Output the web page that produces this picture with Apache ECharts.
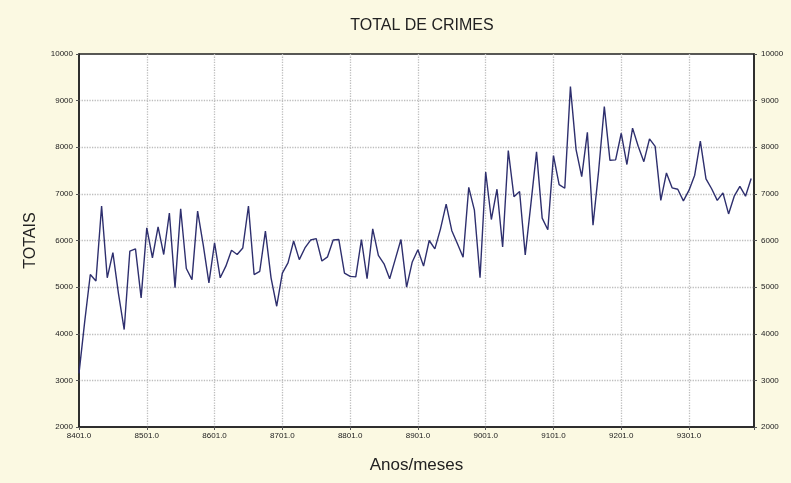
<!DOCTYPE html>
<html>
<head>
<meta charset="utf-8">
<script src="https://cdn.jsdelivr.net/npm/echarts@6/dist/echarts.min.js"></script>
<style>
html,body{margin:0;padding:0;background:#fbf9e2;}
#chart{width:791px;height:483px;}
</style>
</head>
<body>
<div id="chart"></div>
<script>
// Month index (0 = 8401 ... 119 = 9312)
const monthIndex = [
  0,1,2,3,4,5,6,7,8,9,10,11,
  12,13,14,15,16,17,18,19,20,21,22,23,
  24,25,26,27,28,29,30,31,32,33,34,35,
  36,37,38,39,40,41,42,43,44,45,46,47,
  48,49,50,51,52,53,54,55,56,57,58,59,
  60,61,62,63,64,65,66,67,68,69,70,71,
  72,73,74,75,76,77,78,79,80,81,82,83,
  84,85,86,87,88,89,90,91,92,93,94,95,
  96,97,98,99,100,101,102,103,104,105,106,107,
  108,109,110,111,112,113,114,115,116,117,118,119
];
// Total crimes per month
const totals = [
  3150,4250,5270,5130,6740,5200,5740,4850,4090,5770,5820,4770,
  6270,5630,6290,5700,6590,4990,6680,5400,5160,6630,5900,5090,
  5950,5200,5450,5790,5700,5840,6740,5270,5340,6200,5200,4590,
  5300,5520,5990,5590,5840,6010,6040,5560,5650,6010,6020,5300,
  5230,5220,6020,5180,6250,5680,5500,5180,5600,6020,5000,5540,
  5800,5450,6000,5820,6250,6780,6210,5930,5640,7140,6650,5200,
  7470,6450,7100,5860,7930,6940,7050,5690,6780,7900,6480,6230,
  7820,7200,7120,9300,7950,7370,8320,6330,7500,8870,7720,7730,
  8300,7630,8410,8020,7690,8180,8020,6860,7450,7130,7100,6850,
  7080,7400,8130,7320,7110,6860,7020,6570,6950,7160,6950,7330
];
const xTickLabels = ['8401.0','8501.0','8601.0','8701.0','8801.0','8901.0','9001.0','9101.0','9201.0','9301.0'];
const yTickLabels = ['2000','3000','4000','5000','6000','7000','8000','9000','10000'];

const seriesData = monthIndex.map((m, i) => [m, totals[i]]);

const chart = echarts.init(document.getElementById('chart'), null, {renderer: 'canvas'});
const tickFont = {fontFamily: 'Arial, "Liberation Sans", sans-serif', fontSize: 8, color: '#222'};
const gridLine = {color: '#bdbdbd', type: 'dotted', width: 1.3};
const yAxisCommon = {
  type: 'value', min: 2000, max: 10000, interval: 1000,
  axisLine: {show: true, lineStyle: {color: '#222', width: 1.5}},
  axisTick: {show: true, length: 3, lineStyle: {color: '#555'}},
};
chart.setOption({
  backgroundColor: '#fbf9e2',
  animation: false,
  title: {
    text: 'TOTAL DE CRIMES', left: 417, top: 13, textAlign: 'center',
    textStyle: {fontFamily: 'Arial, "Liberation Sans", sans-serif', fontSize: 16, fontWeight: 'normal', color: '#222'}
  },
  grid: {left: 79, right: 37, top: 54, bottom: 56, show: true, backgroundColor: '#ffffff', borderColor: '#222', borderWidth: 1.5},
  xAxis: {
    type: 'value', min: 0, max: 119.5, interval: 12,
    name: 'Anos/meses', nameLocation: 'middle', nameGap: 30,
    nameTextStyle: {fontFamily: 'Arial, "Liberation Sans", sans-serif', fontSize: 17, color: '#222'},
    axisLine: {show: true, lineStyle: {color: '#222', width: 1.5}},
    axisTick: {show: true, length: 3, lineStyle: {color: '#555'}},
    axisLabel: Object.assign({margin: 5, formatter: v => xTickLabels[Math.round(v / 12)] || ''}, tickFont),
    splitLine: {show: true, showMinLine: false, showMaxLine: false, lineStyle: gridLine}
  },
  yAxis: [
    Object.assign({}, yAxisCommon, {
      position: 'left',
      name: 'TOTAIS', nameLocation: 'middle', nameGap: 40, nameRotate: 90,
      nameTextStyle: {fontFamily: 'Arial, "Liberation Sans", sans-serif', fontSize: 16, color: '#222'},
      axisLabel: Object.assign({margin: 6, formatter: v => yTickLabels[Math.round((v - 2000) / 1000)]}, tickFont),
      splitLine: {show: true, showMinLine: false, showMaxLine: false, lineStyle: gridLine}
    }),
    Object.assign({}, yAxisCommon, {
      position: 'right',
      axisLabel: Object.assign({margin: 7, formatter: v => yTickLabels[Math.round((v - 2000) / 1000)]}, tickFont),
      splitLine: {show: false}
    })
  ],
  series: [{
    type: 'line', data: seriesData, yAxisIndex: 0, showSymbol: false,
    lineStyle: {color: '#2e2f6e', width: 1.4}
  }]
});
</script>
</body>
</html>
